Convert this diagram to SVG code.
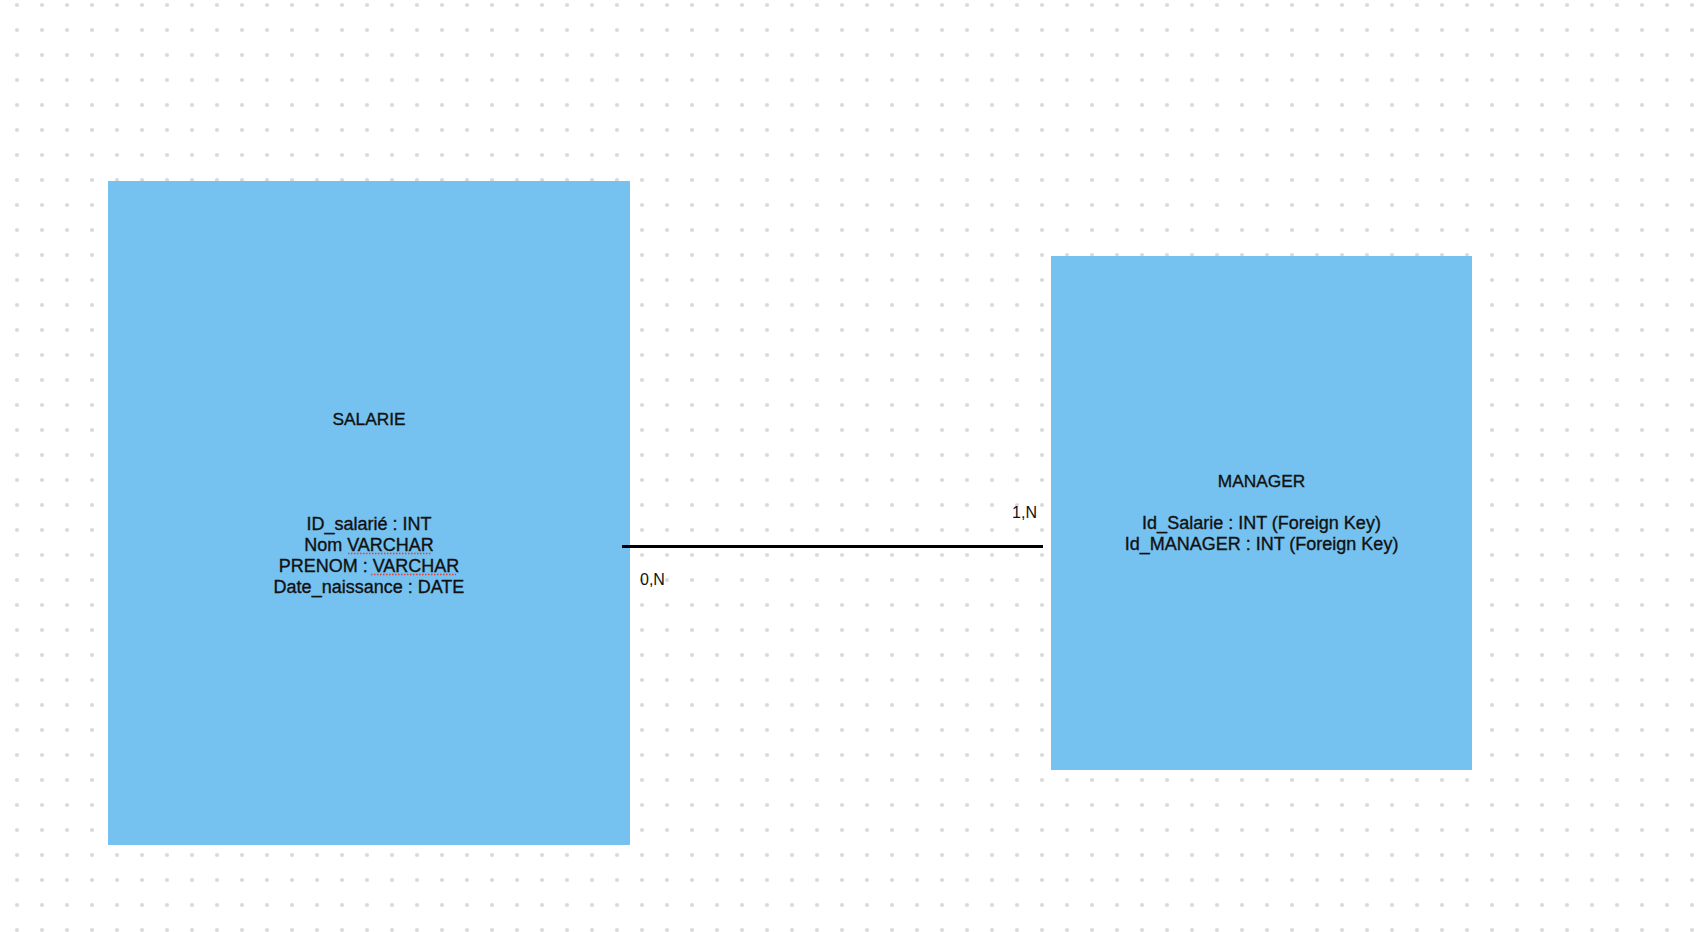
<svg xmlns="http://www.w3.org/2000/svg" width="1700" height="932" viewBox="0 0 1700 932">
  <defs>
    <pattern id="dots" patternUnits="userSpaceOnUse" x="0" y="0" width="25" height="25">
      <circle cx="17" cy="5" r="2.1" fill="#dadada"/>
    </pattern>
  </defs>
  <style>
    .entity { fill: #75c2f0; }
    .title { font-family: "Liberation Sans", Arial, sans-serif; font-size: 17.3px; fill: #111; stroke: #111; stroke-width: 0.35px; text-anchor: middle; }
    .attr { font-family: "Liberation Sans", Arial, sans-serif; font-size: 18px; fill: #111; stroke: #111; stroke-width: 0.35px; text-anchor: middle; }
    .card { font-family: "Liberation Sans", Arial, sans-serif; font-size: 16px; fill: #111; }
    .spell { stroke: #e0403a; stroke-width: 1.3; stroke-dasharray: 1.5 1.5; fill: none; }
    .conn { stroke: #000; stroke-width: 3; fill: none; }
  </style>
  <rect x="0" y="0" width="1700" height="932" fill="#ffffff"/>
  <rect x="0" y="0" width="1700" height="932" fill="url(#dots)"/>

  <g id="salarie">
    <rect class="entity" x="108" y="181" width="522" height="664"/>
    <text class="title" x="369" y="425">SALARIE</text>
    <text class="attr" x="369" y="530">ID_salarié : INT</text>
    <text class="attr" x="369" y="551">Nom VARCHAR</text>
    <text class="attr" x="369" y="572">PRENOM : VARCHAR</text>
    <text class="attr" x="369" y="593">Date_naissance : DATE</text>
    <line class="spell" x1="348" y1="553.5" x2="432" y2="553.5"/>
    <line class="spell" x1="371" y1="574.5" x2="456" y2="574.5"/>
  </g>

  <g id="manager">
    <rect class="entity" x="1051" y="256" width="421" height="514"/>
    <text class="title" x="1261.5" y="487">MANAGER</text>
    <text class="attr" x="1261.5" y="529">Id_Salarie : INT (Foreign Key)</text>
    <text class="attr" x="1261.5" y="550">Id_MANAGER : INT (Foreign Key)</text>
  </g>

  <g id="connectors">
    <line class="conn" x1="622" y1="546.5" x2="1043" y2="546.5"/>
    <text class="card" x="640" y="585">0,N</text>
    <text class="card" x="1037" y="518" text-anchor="end">1,N</text>
  </g>
</svg>
